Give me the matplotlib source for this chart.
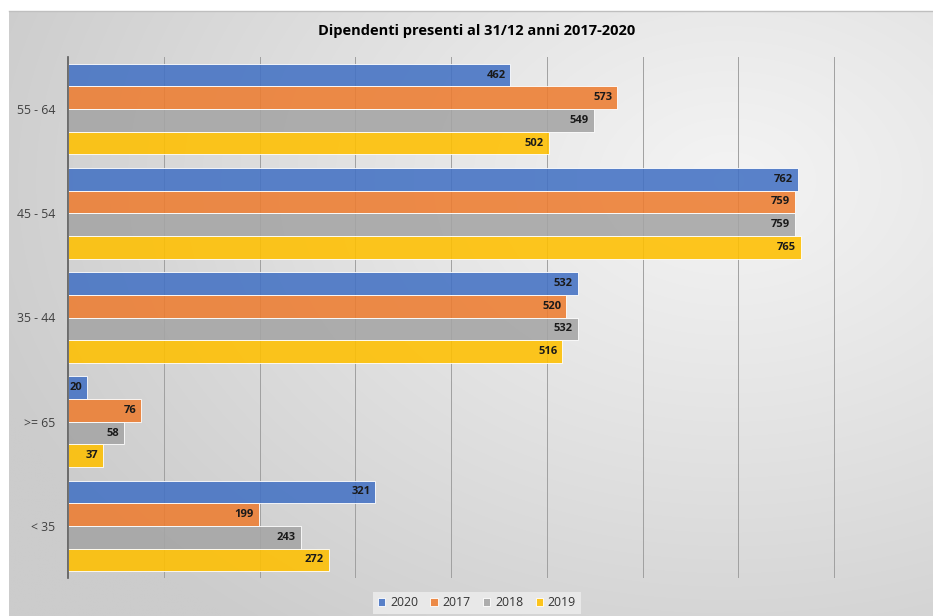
import matplotlib
matplotlib.use("Agg")
import matplotlib.pyplot as plt
import numpy as np

categories = ["55 - 64", "45 - 54", "35 - 44", ">= 65", "< 35"]
series_names = ["2020", "2017", "2018", "2019"]
values_2020 = [462, 762, 532, 20, 321]
values_2017 = [573, 759, 520, 76, 199]
values_2018 = [549, 759, 532, 58, 243]
values_2019 = [502, 765, 516, 37, 272]
series_values = [values_2020, values_2017, values_2018, values_2019]
colors = ["#4472C4", "#ED7D31", "#A5A5A5", "#FFC000"]
title = "Dipendenti presenti al 31/12 anni 2017-2020"

plt.rcParams['font.family'] = ['Open Sans', 'DejaVu Sans']

W, H = 933, 616
fig = plt.figure(figsize=(W / 100, H / 100), dpi=100)
fig.patch.set_facecolor("white")

# background gradient (chart area)
bg = fig.add_axes([9 / W, 0, 1 - 9 / W, (H - 11) / H], zorder=-10)
nx, ny = 400, 300
xx, yy = np.meshgrid(np.linspace(0, 1, nx), np.linspace(0, 1, ny))
cx, cy = 0.78, 0.72
d = np.sqrt(((xx - cx) / 1.0) ** 2 + ((yy - cy) / 1.1) ** 2)
d = np.clip(d / 0.85, 0, 1)
light, dark = 0.955, 0.80
img = light - (light - dark) * d ** 1.1
bg.imshow(np.dstack([img, img, img]), extent=[0, 1, 0, 1], origin="lower",
          aspect="auto", interpolation="bilinear")
bg.set_axis_off()
fig.add_artist(plt.Line2D([9 / W, 1], [(H - 11) / H, (H - 11) / H],
                          transform=fig.transFigure, color="#bfbfbf", lw=1))

ax = fig.add_axes([68 / W, (H - 578) / H, (930 - 68) / W, (578 - 57) / H])
ax.set_facecolor("none")

n = len(series_values)
h = 0.87 / n
y = np.arange(len(categories))
for j, (name, vals, c) in enumerate(zip(series_names, series_values, colors)):
    pos = y + (j - (n - 1) / 2) * h
    bars = ax.barh(pos, vals, height=h, color=c, alpha=0.88, label=name,
                   edgecolor=(1, 1, 1, 0.35), linewidth=0.7, zorder=3)
    for b, v in zip(bars, vals):
        ax.text(b.get_width() - 5, b.get_y() + b.get_height() / 2, str(v),
                ha="right", va="center", fontsize=8, fontweight="bold",
                color="#1a1a1a", zorder=4)

ax.set_xlim(0, 900)
ax.set_ylim(len(categories) - 0.5, -0.5)
ax.set_xticks(np.arange(100, 901, 100))
ax.xaxis.grid(True, color="#a0a0a0", lw=0.7, zorder=0)
ax.tick_params(axis="x", length=0, labelbottom=False)
ax.set_yticks(y)
ax.set_yticklabels(categories, fontsize=8.8, color="#404040")
ax.tick_params(axis="y", length=0, pad=9)
for s in ["top", "right", "bottom"]:
    ax.spines[s].set_visible(False)
ax.spines["left"].set_color("#595959")
ax.spines["left"].set_linewidth(1.2)
ax.spines["left"].set_zorder(6)
ax.set_axisbelow(True)

fig.text(477 / W, 1 - 31 / H, title, ha="center", va="center",
         fontsize=10.5, fontweight="bold", color="#000000")

leg = fig.legend(loc="center", bbox_to_anchor=(477 / W, 1 - 603 / H),
                 ncol=4, frameon=True, fontsize=8.8, handlelength=0.6,
                 handleheight=0.6, handletextpad=0.4, columnspacing=1.0,
                 borderpad=0.4, fancybox=False)
leg.get_frame().set_facecolor("#e8e8e8")
leg.get_frame().set_edgecolor("none")
leg.get_frame().set_alpha(1)
for t in leg.get_texts():
    t.set_color("#333333")

fig.savefig("out.png", dpi=100)
